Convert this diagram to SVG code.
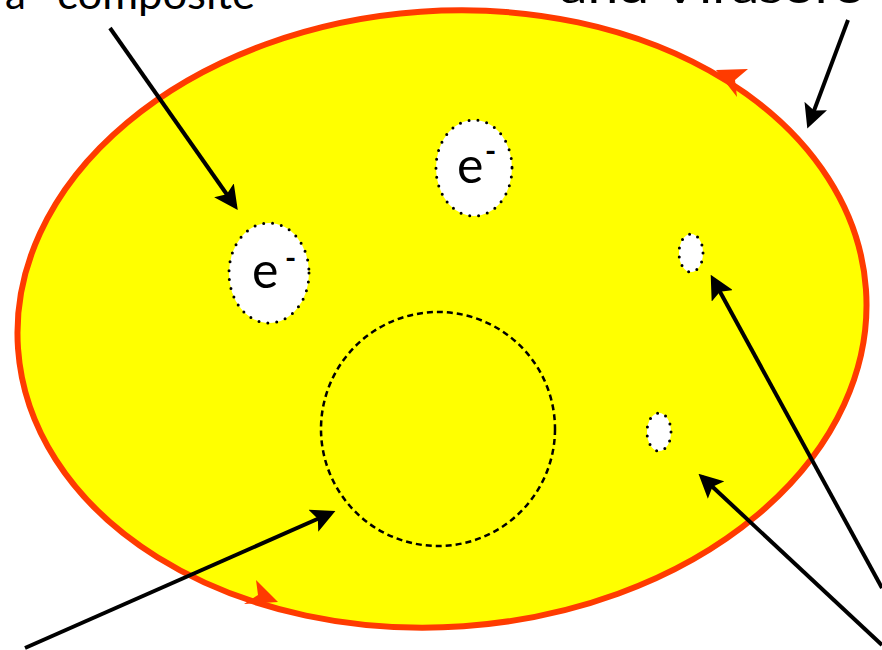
<svg xmlns="http://www.w3.org/2000/svg" width="882" height="650" viewBox="0 0 882 650">
<defs>
<style>
.lbl{font-family:"Lato","Open Sans","Liberation Sans",sans-serif;font-size:42px;fill:#000}
.el{font-family:"Lato","Open Sans","Liberation Sans",sans-serif;font-size:50px;fill:#000}
.mn{font-family:"Lato","Open Sans","Liberation Sans",sans-serif;font-size:30px;font-weight:bold;fill:#000}
.hole{fill:#fff;stroke:#000;stroke-width:3;stroke-linecap:round;stroke-dasharray:0 9}
.arr{stroke:#000;stroke-width:4;fill:none;marker-end:url(#ah)}
</style>
<marker id="ah" viewBox="0 0 10 10" refX="8" refY="5" markerWidth="6" markerHeight="6" orient="auto" markerUnits="strokeWidth">
<path d="M0,0 L10,5 L0,10 L2,5 Z" fill="#000"/>
</marker>
</defs>
<rect width="882" height="650" fill="#fff"/>
<g id="labels">
<text class="lbl" x="5" y="9">a</text>
<text class="lbl" x="57" y="9" textLength="198" lengthAdjust="spacingAndGlyphs">composite</text>
<text class="lbl" x="560" y="3" textLength="305" lengthAdjust="spacingAndGlyphs">and Virasoro</text>
</g>
<g id="region">
<ellipse cx="442" cy="319" rx="425" ry="308" transform="rotate(-4 442 319)" fill="#ffff00" stroke="#ff3b00" stroke-width="6"/>
<polygon points="716,70 748,69 735,80 737,97" fill="#ff3b00"/>
<polygon points="278,602 244,604 258,595 256,580" fill="#ff3b00"/>
</g>
<g id="electron1">
<ellipse class="hole" cx="474" cy="168" rx="38" ry="48"/>
<text class="el" x="457" y="183">e</text><text class="mn" x="485" y="162">-</text>
</g>
<g id="electron2">
<ellipse class="hole" cx="269" cy="273" rx="40" ry="50"/>
<text class="el" x="252" y="288">e</text><text class="mn" x="285" y="269">-</text>
</g>
<g id="hole1"><ellipse class="hole" cx="691" cy="253" rx="12" ry="19"/></g>
<g id="hole2"><ellipse class="hole" cx="659" cy="432" rx="12" ry="19"/></g>
<g id="core"><circle cx="438" cy="429" r="117" fill="none" stroke="#000" stroke-width="2.5" stroke-dasharray="6 4"/></g>
<g id="connectors">
<line class="arr" x1="110" y1="28" x2="235" y2="206"/>
<line class="arr" x1="848" y1="20" x2="809" y2="124"/>
<line class="arr" x1="882" y1="588" x2="713" y2="279"/>
<line class="arr" x1="882" y1="645" x2="702" y2="477"/>
<line class="arr" x1="25" y1="648" x2="331" y2="513"/>
</g>
</svg>
